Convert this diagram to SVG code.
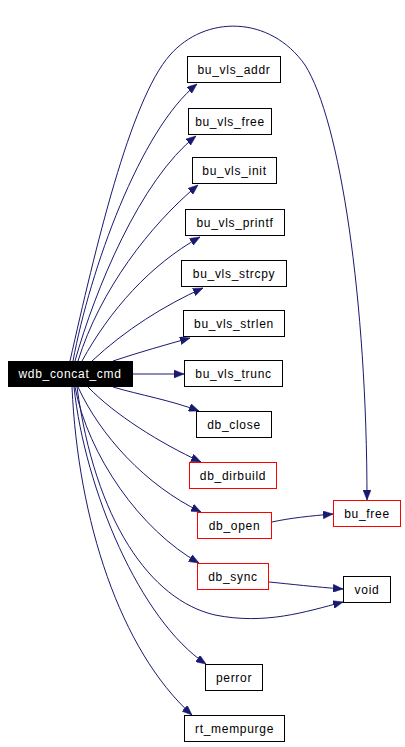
<svg xmlns="http://www.w3.org/2000/svg" width="405" height="747" viewBox="0 0 405 747">
<defs>
<style>
.bg{fill:#ffffff}
.n rect{fill:#ffffff;stroke:#000000;stroke-width:1}
.n.r rect{stroke:#ff0000}
.n text{font-family:"Liberation Sans",Arial,sans-serif;font-size:12px;letter-spacing:0.7px;text-anchor:middle;fill:#000000}
#main rect{fill:#000000;stroke:#000000}
#main text{fill:#ffffff}
#edges path{fill:none;stroke:#191970;stroke-width:1;marker-end:url(#arr)}
</style>
<marker id="arr" markerUnits="userSpaceOnUse" markerWidth="10" markerHeight="8" refX="10" refY="4" orient="auto">
<path d="M0,0 L10,4 L0,8 z" fill="#191970" stroke="#191970" stroke-width="0.5"/>
</marker>
</defs>
<rect class="bg" x="0" y="0" width="405" height="747"/>
<g id="edges">
<path d="M70,361 C95,250 130,100 170,55 C205,15 270,15 305,65 C340,120 367,300 367,500"/>
<path d="M73,361 C90,270 140,130 197,84"/>
<path d="M75,361 C95,290 140,180 196,136"/>
<path d="M78,361 C100,290 150,225 198,185"/>
<path d="M82,361 C110,310 150,265 200,237"/>
<path d="M92,361 C125,330 165,305 203,288"/>
<path d="M113,361 C140,352 165,345 190,338"/>
<path d="M133,374 L184,374"/>
<path d="M113,387 C140,395 170,400 199,411"/>
<path d="M88,387 C115,415 160,443 201,462"/>
<path d="M78,387 C100,435 145,485 201,512"/>
<path d="M75,387 C88,455 140,530 199,563"/>
<path d="M77,387 C95,520 150,600 215,615 C265,625 305,612 343,602"/>
<path d="M74,387 C85,490 140,620 206,664"/>
<path d="M72,387 C78,520 120,650 192,715"/>
<path d="M272,522 C290,518 310,516 333,514"/>
<path d="M269,582 C290,584 315,587 343,589"/>
</g>
<g id="main" class="n"><rect x="8.5" y="361.5" width="124" height="25"/><text x="70" y="378">wdb_concat_cmd</text></g>
<g id="bu_vls_addr" class="n"><rect x="187.5" y="56.5" width="93" height="26"/><text x="234" y="74">bu_vls_addr</text></g>
<g id="bu_vls_free" class="n"><rect x="188.5" y="108.5" width="83" height="26"/><text x="230" y="126">bu_vls_free</text></g>
<g id="bu_vls_init" class="n"><rect x="192.5" y="157.5" width="84" height="26"/><text x="234.5" y="175">bu_vls_init</text></g>
<g id="bu_vls_printf" class="n"><rect x="185.5" y="209.5" width="99" height="26"/><text x="235" y="227">bu_vls_printf</text></g>
<g id="bu_vls_strcpy" class="n"><rect x="181.5" y="260.5" width="105" height="26"/><text x="234" y="278">bu_vls_strcpy</text></g>
<g id="bu_vls_strlen" class="n"><rect x="183.5" y="310.5" width="101" height="26"/><text x="234" y="328">bu_vls_strlen</text></g>
<g id="bu_vls_trunc" class="n"><rect x="184.5" y="360.5" width="98" height="26"/><text x="233.5" y="378">bu_vls_trunc</text></g>
<g id="db_close" class="n"><rect x="196.5" y="411.5" width="75" height="26"/><text x="234" y="429">db_close</text></g>
<g id="db_dirbuild" class="n r"><rect x="189.5" y="462.5" width="87" height="26"/><text x="233" y="480">db_dirbuild</text></g>
<g id="db_open" class="n r"><rect x="197.5" y="512.5" width="74" height="26"/><text x="234.5" y="530">db_open</text></g>
<g id="db_sync" class="n r"><rect x="197.5" y="563.5" width="71" height="26"/><text x="233" y="581">db_sync</text></g>
<g id="perror" class="n"><rect x="205.5" y="664.5" width="57" height="26"/><text x="234" y="682">perror</text></g>
<g id="rt_mempurge" class="n"><rect x="184.5" y="715.5" width="100" height="26"/><text x="234.5" y="733">rt_mempurge</text></g>
<g id="bu_free" class="n r"><rect x="333.5" y="500.5" width="67" height="26"/><text x="367" y="518">bu_free</text></g>
<g id="void" class="n"><rect x="343.5" y="576.5" width="47" height="26"/><text x="367" y="594">void</text></g>
</svg>
